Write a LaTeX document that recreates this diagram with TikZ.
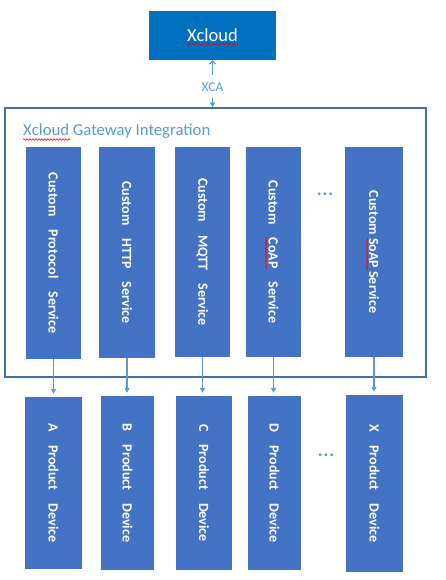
\documentclass[tikz,border=0pt]{standalone}
\usepackage{fontspec}
\setmainfont{Carlito}
\usetikzlibrary{arrows.meta,decorations.pathmorphing,calc}
\definecolor{cloudblue}{HTML}{0070C0}
\definecolor{boxblue}{HTML}{4472C4}
\definecolor{lightblue}{HTML}{5B9BD5}
\definecolor{frameblue}{HTML}{41719C}
\newcommand{\wgap}{\hspace{13pt}}
\begin{document}
\begin{tikzpicture}[x=1pt,y=-1pt,
  cloudbox/.style={fill=cloudblue, text=white, inner sep=0pt, font=\fontsize{18.5}{22}\selectfont},
  frame/.style={draw=frameblue, line width=1.2pt, inner sep=0pt},
  vbox/.style={fill=boxblue, text=white, inner sep=0pt, rotate=-90, font=\bfseries\fontsize{14}{17}\selectfont},
  lbl/.style={text=lightblue, inner sep=0pt},
  conn/.style={draw=lightblue, line width=1.2pt},
  downtip/.style={conn, -{Triangle[length=5pt,width=5pt]}},
  uptip/.style={conn, -{Straight Barb[length=3pt,width=6pt]}},
  squig/.style={draw=red, line width=0.6pt, decorate, decoration={snake, segment length=3pt, amplitude=0.8pt}}
]
\useasboundingbox (0,0) rectangle (445,580);

% top
\node[cloudbox, minimum width=127pt, minimum height=49pt] (xcloud) at (212.5,35.5) {Xcloud};
\node[frame, minimum width=421pt, minimum height=269pt] (gw) at (215.5,242.5) {};
\node[lbl, anchor=base west, font=\fontsize{16.7}{20}\selectfont] (title) at (23,136) {Xcloud Gateway Integration};
\node[lbl, anchor=base, font=\fontsize{13.5}{16}\selectfont] (xca) at (212.5,91.5) {XCA};

\draw[uptip, shorten <=8pt] (xca.north) -- (xca.north |- xcloud.south);
\draw[downtip, shorten <=6pt] (xca.south) -- (xca.south |- gw.north);

% services
\node[vbox, minimum width=212pt, minimum height=55pt] (s1) at (53.5,253) {Custom\wgap Protocol\wgap Service};
\node[vbox, minimum width=211pt, minimum height=56pt] (s2) at (127,252.5) {Custom\wgap HTTP\wgap Service};
\node[vbox, minimum width=210pt, minimum height=55pt] (s3) at (202.5,252) {Custom\wgap MQTT\wgap Service};
\node[vbox, minimum width=210pt, minimum height=55pt] (s4) at (273.5,252) {Custom\wgap CoAP\wgap Service};
\node[vbox, minimum width=210pt, minimum height=58pt] (s5) at (374,252) {Custom SoAP Service};
\node[lbl, font=\fontsize{23}{26}\selectfont] (sdots) at (325,194) {...};

% devices
\node[vbox, minimum width=172pt, minimum height=57pt] (d1) at (53.5,483) {A\wgap Product\wgap Device};
\node[vbox, minimum width=174pt, minimum height=53pt] (d2) at (127.5,483) {B\wgap Product\wgap Device};
\node[vbox, minimum width=174pt, minimum height=56pt] (d3) at (204,483) {C\wgap Product\wgap Device};
\node[vbox, minimum width=174pt, minimum height=53pt] (d4) at (274.5,483) {D\wgap Product\wgap Device};
\node[vbox, minimum width=177pt, minimum height=57pt] (d5) at (374.5,483.5) {X\wgap Product\wgap Device};
\node[lbl, font=\fontsize{23}{26}\selectfont] (ddots) at (326,455) {...};

% connectors
\draw[downtip, shorten >=3pt] (s1.east) -- (s1.east |- d1.west);
\draw[downtip, shorten >=3pt] (s2.east) -- (s2.east |- d2.west);
\draw[downtip, shorten >=3pt] (s3.east) -- (s3.east |- d3.west);
\draw[downtip, shorten >=3pt] (s4.east) -- (s4.east |- d4.west);
\draw[downtip, shorten >=3pt] (s5.east) -- (s5.east |- d5.west);

% spell-check marks
\draw[squig] (186,44) -- (238,44);
\draw[squig] (23,139.5) -- (70,139.5);
\draw[squig] (266,237) -- (266,269);
\draw[squig] (367,238) -- (367,271);
\end{tikzpicture}
\end{document}
